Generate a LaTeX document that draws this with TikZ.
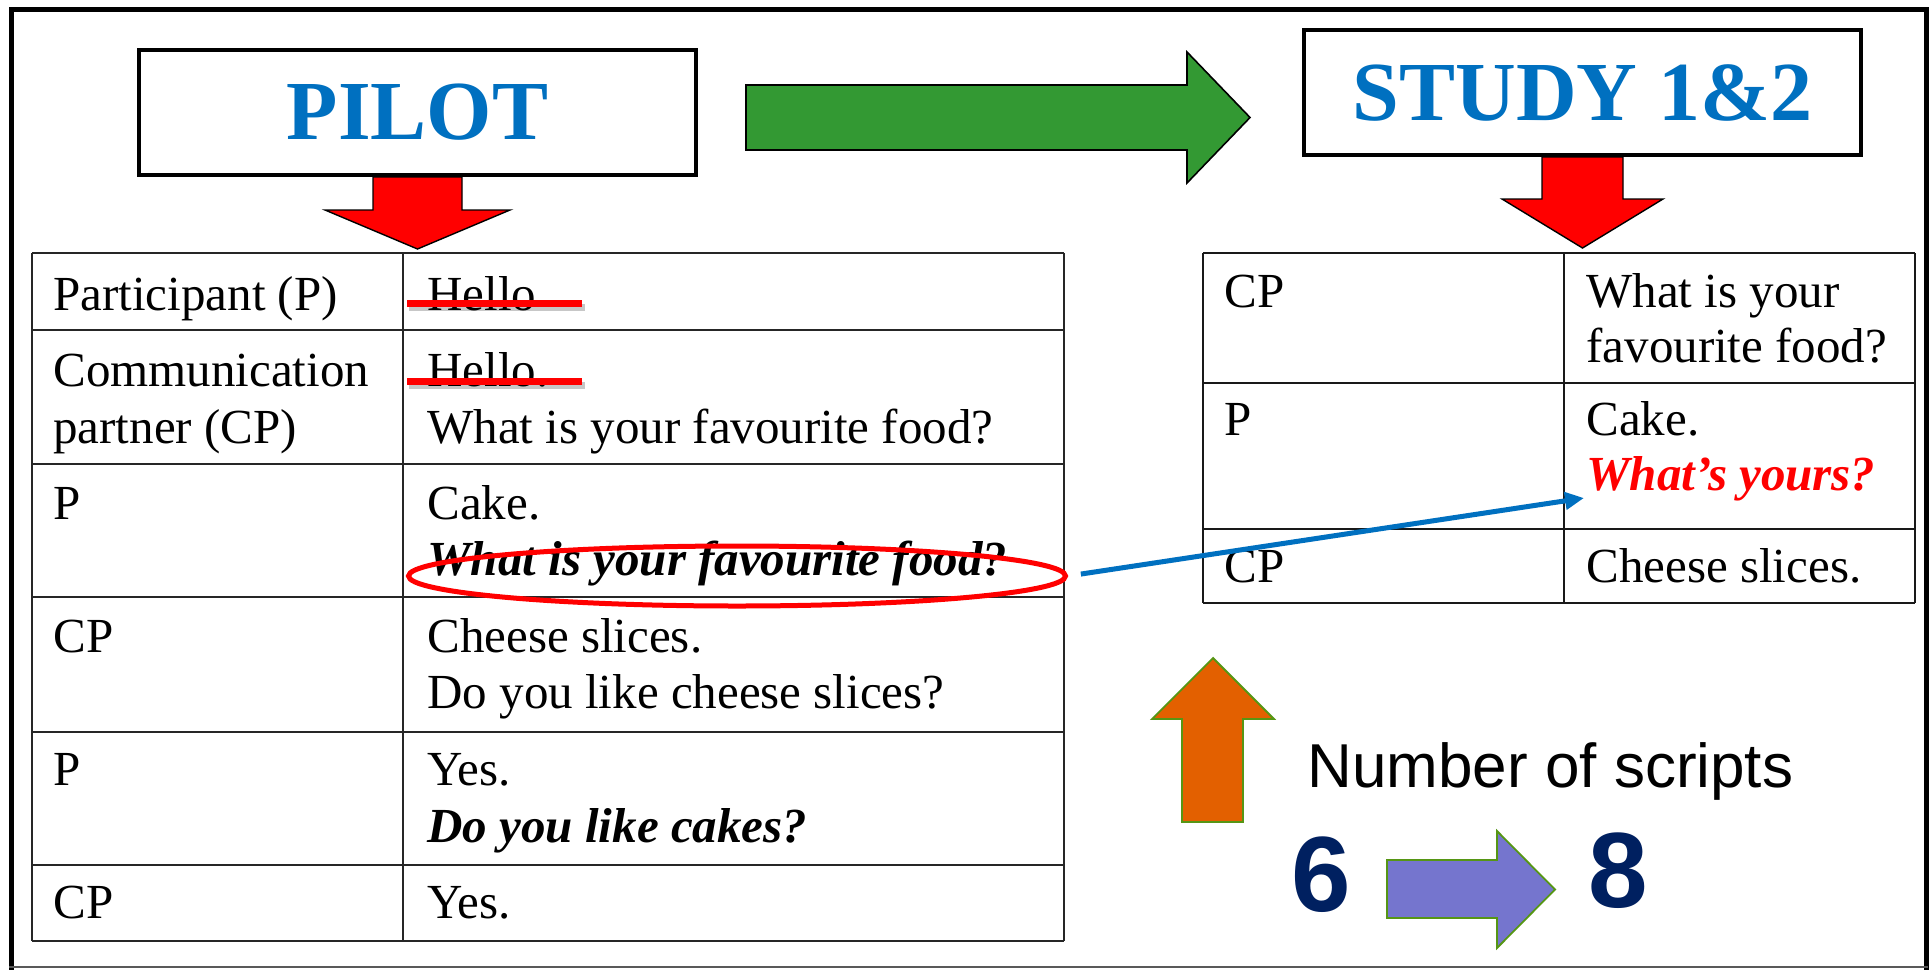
\documentclass[tikz,border=0pt]{standalone}
\usepackage{fontspec}
\setmainfont{Liberation Serif}
\newfontfamily\arialfont{Liberation Sans}
\usetikzlibrary{arrows.meta,shapes.geometric,calc}

\definecolor{titleblue}{RGB}{0,112,192}
\definecolor{arrowgreen}{RGB}{51,153,51}
\definecolor{edgegreen}{RGB}{86,150,20}
\definecolor{uporange}{RGB}{227,96,0}
\definecolor{stepviolet}{RGB}{117,117,206}
\definecolor{digitnavy}{RGB}{0,32,96}

\begin{document}
\begin{tikzpicture}[x=0.5pt,y=-0.5pt,
  cell/.style={anchor=base west, inner sep=0pt, font=\fontsize{24.5}{29}\selectfont},
  emphcell/.style={cell, font=\fontsize{24.5}{29}\selectfont\bfseries\itshape},
  gridline/.style={line width=1.3pt, black!85},
  gridthin/.style={line width=1pt, black!90},
  titlebox/.style={draw=black, fill=white, line width=2pt, minimum width=278.5pt,
    minimum height=62.5pt, inner sep=0pt, text=titleblue,
    font=\fontsize{42}{50}\selectfont\bfseries},
  downarrow/.style={fill=red, draw=black, line width=0.7pt, line join=miter},
  strike/.style={red, line width=3.5pt},
  strikeshadow/.style={black, opacity=0.22, line width=3.5pt},
  blockedge/.style={draw=edgegreen, line width=0.9pt, line join=miter},
  digit/.style={anchor=base, inner sep=0pt, text=digitnavy,
    font=\arialfont\fontsize{53.5}{60}\selectfont\bfseries}]

\useasboundingbox (0,0) rectangle (1930,969);
\fill[white] (0,0) rectangle (1930,969);

% outer frame
\draw[line width=2.5pt, line cap=rect] (11,967) -- (11,9.5) -- (1926,9.5) -- (1926,967);
\draw[black!65, line width=1pt] (9,967) -- (1928,967);

% title boxes
\node[titlebox] (pilot) at (417.5,112.5) {PILOT};
\node[titlebox] (study) at (1582.5,92.5) {STUDY 1\&2};

% block arrows below the titles
\draw[downarrow, shift={(pilot.south)}] (-44.5,0) -- (44.5,0) -- (44.5,33) -- (92.5,33)
  -- (0,72) -- (-92.5,33) -- (-44.5,33) -- cycle;
\draw[downarrow, shift={(study.south)}] (-40.5,0) -- (40.5,0) -- (40.5,42) -- (80.5,42)
  -- (0,91) -- (-80.5,42) -- (-40.5,42) -- cycle;

% green arrow from pilot to study
\draw[fill=arrowgreen, draw=black, line width=0.8pt, line join=miter]
  (746,85) -- (1187,85) -- (1187,52) -- (1250,117.5) -- (1187,183) -- (1187,150) -- (746,150) -- cycle;

% pilot script table
\foreach \yy in {253,330,464,597,732,865,941}
  \draw[gridline] (32,\yy) -- (1064,\yy);
\foreach \xx in {32,403,1064}
  \draw[gridline] (\xx,253) -- (\xx,941);

\node[cell] (pa) at (53,310) {Participant (P)};
\node[cell] (cpa) at (53,386) {Communication};
\node[cell] (cpb) at (53,443) {partner (CP)};
\node[cell] (pb) at (53,519) {P};
\node[cell] (cpc) at (53,652) {CP};
\node[cell] (pc) at (53,785) {P};
\node[cell] (cpd) at (53,918) {CP};

\node[cell] (hia) at (427,310) {Hello};
\node[cell] (hib) at (427,386) {Hello.};
\node[cell] (foodq) at (427,443) {What is your favourite food?};
\node[cell] (cakea) at (427,519) {Cake.};
\node[emphcell] (foodr) at (427,575) {What is your favourite food?};
\node[cell] (cheesea) at (427,652) {Cheese slices.};
\node[cell] (cheeseq) at (427,708) {Do you like cheese slices?};
\node[cell] (yesa) at (427,785) {Yes.};
\node[emphcell] (cakeq) at (427,842) {Do you like cakes?};
\node[cell] (yesb) at (427,918) {Yes.};

% struck-out greetings
\draw[strikeshadow] (409,307) -- (585,307);
\draw[strike] (407,303) -- (582,303);
\draw[strikeshadow] (409,385) -- (585,385);
\draw[strike] (407,381) -- (582,381);

% study script table
\foreach \yy in {253,383,529,603}
  \draw[gridthin] (1203,\yy) -- (1915,\yy);
\foreach \xx in {1203,1564,1915}
  \draw[gridthin] (\xx,253) -- (\xx,603);

\node[cell] (scpa) at (1224,307) {CP};
\node[cell] (sqa) at (1586,307) {What is your};
\node[cell] (sqb) at (1586,362) {favourite food?};
\node[cell] (spa) at (1224,435) {P};
\node[cell] (scake) at (1586,435) {Cake.};
\node[emphcell, text=red] (syours) at (1586,490) {What’s yours?};
\node[cell] (scpb) at (1224,582) {CP};
\node[cell] (scheese) at (1586,582) {Cheese slices.};

% highlighted question and its replacement
\node[ellipse, draw=red, line width=2.5pt, minimum width=328.5pt, minimum height=30pt,
  inner sep=0pt] (ring) at (737,576) {};
\coordinate (target) at (1584,498);
\draw[titleblue, line width=2.5pt, shorten <=6.5pt,
  -{Triangle[length=9.5pt,width=8.5pt]}] (ring.east) -- (target);

% number of scripts
\draw[fill=uporange, blockedge] (1182,822) -- (1182,719) -- (1152,719) -- (1213,658)
  -- (1274,719) -- (1243,719) -- (1243,822) -- cycle;
\node[anchor=base west, inner sep=0pt, font=\arialfont\fontsize{31}{36}\selectfont]
  (count) at (1307,787) {Number of scripts};
\node[digit] (six) at (1321,911) {6};
\node[digit] (eight) at (1618,907) {8};
\draw[fill=stepviolet, blockedge] (1387,860) -- (1497,860) -- (1497,831) -- (1555,889.5)
  -- (1497,948) -- (1497,918) -- (1387,918) -- cycle;

\end{tikzpicture}
\end{document}
